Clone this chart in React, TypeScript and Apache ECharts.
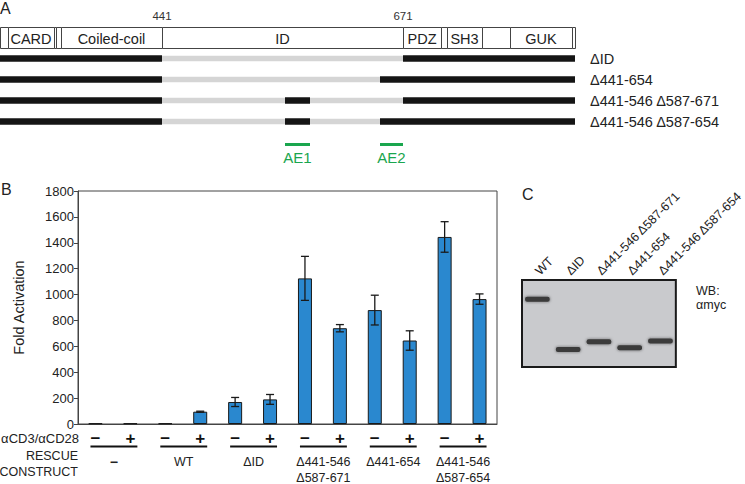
import React, { useEffect, useRef } from "react";
import * as echarts from "echarts";

const FONT = "'Liberation Sans', Arial, Helvetica, sans-serif";
const INK = "#222";

// ---------- Panel B: reporter assay ----------
const barIds = ["b1", "b2", "b3", "b4", "b5", "b6", "b7", "b8", "b9", "b10", "b11", "b12"];
const stimulation = ["−", "+", "−", "+", "−", "+", "−", "+", "−", "+", "−", "+"];
const rescueGroups = ["−", "WT", "ΔID", "Δ441-546\nΔ587-671", "Δ441-654", "Δ441-546\nΔ587-654"];
const foldActivation = [5, 5, 5, 95, 170, 190, 1125, 740, 880, 645, 1445, 965];
const foldError = [0, 0, 0, 4, 35, 38, 170, 28, 115, 75, 118, 40];

// ---------- Panel A: construct schematic ----------
// residue breakpoints and their place along the (not-to-scale) schematic
const breakResidues = [1, 441, 546, 587, 654, 671, 1154];
const breakPositions = [0, 162, 285, 310, 380, 403, 575];
const domainNames = ["", "CARD", "", "", "Coiled-coil", "ID", "PDZ", "", "SH3", "", "GUK", ""];
const domainEdges = [0, 8, 54, 56, 61, 162, 403, 441, 447, 482, 510, 572, 575];
const labeledResidues = [441, 671];
const constructs = ["ΔID", "Δ441-654", "Δ441-546 Δ587-671", "Δ441-546 Δ587-654"];
const constructDeletions = [
  [[441, 671]],
  [[441, 654]],
  [[441, 546], [587, 671]],
  [[441, 546], [587, 654]],
];
const aeNames = ["AE1", "AE2"];
const aeRanges = [[546, 587], [654, 671]];

// ---------- Panel C: western blot ----------
const lanes = ["WT", "ΔID", "Δ441-546 Δ587-671", "Δ441-654", "Δ441-546 Δ587-654"];
const bandMigration = [22, 80, 71, 78, 70];

function resPos(res: number): number {
  for (let k = 0; k < breakResidues.length - 1; k++) {
    const a = breakResidues[k], b = breakResidues[k + 1];
    if (res >= a && res <= b) {
      const t = (res - a) / (b - a);
      return breakPositions[k] + t * (breakPositions[k + 1] - breakPositions[k]);
    }
  }
  return breakPositions[breakPositions.length - 1];
}

const schematicRows = ["domains", ...constructs, "AE"];

function buildSegments() {
  const out: number[][] = [];
  const first = breakResidues[0];
  const last = breakResidues[breakResidues.length - 1];
  constructDeletions.forEach((dels, r) => {
    let cursor = first;
    dels.forEach(([a, b]) => {
      out.push([resPos(cursor), resPos(a), r + 1, 1]);
      out.push([resPos(a), resPos(b), r + 1, 0]);
      cursor = b;
    });
    out.push([resPos(cursor), resPos(last), r + 1, 1]);
  });
  return out;
}

export default function App() {
  const ref = useRef<HTMLDivElement>(null);
  useEffect(() => {
    if (!ref.current) return;
    const chart = echarts.init(ref.current, undefined, { renderer: "svg" });

    const option: any = {
      animation: false,
      textStyle: { fontFamily: FONT, color: INK },
      grid: [
        { left: 78, top: 191, width: 419, height: 233, show: true, borderColor: "#444", borderWidth: 1 },
        { left: 0, top: 27, width: 575, height: 126 },
        { left: 522, top: 280, width: 167, height: 87, show: true, backgroundColor: "#c9cacd", borderColor: "#1a1a1a", borderWidth: 2 },
      ],
      xAxis: [
        {
          gridIndex: 0,
          type: "category",
          data: barIds,
          axisLine: { show: true, lineStyle: { color: "#444", width: 1 } },
          axisTick: { show: false },
          axisLabel: {
            interval: 0,
            margin: 6,
            fontSize: 17,
            fontWeight: "bold",
            lineHeight: 16,
            color: "#111",
            formatter: (_v: string, i: number) => stimulation[i],
          },
        },
        { gridIndex: 1, type: "value", min: 0, max: 575, show: false },
        {
          gridIndex: 2,
          type: "category",
          data: lanes,
          position: "top",
          axisLine: { show: false },
          axisTick: { show: false },
          axisLabel: { interval: 0, rotate: 45, margin: 7, fontSize: 12.5, color: INK },
        },
      ],
      yAxis: [
        {
          gridIndex: 0,
          type: "value",
          min: 0,
          max: 1800,
          interval: 200,
          name: "Fold Activation",
          nameLocation: "middle",
          nameGap: 52,
          nameTextStyle: { fontSize: 14.5, color: INK },
          splitLine: { show: false },
          axisLine: { show: true, lineStyle: { color: "#444", width: 1 } },
          axisTick: { show: true, length: 4, lineStyle: { color: "#444" } },
          axisLabel: { fontSize: 13, color: INK, margin: 4, formatter: (v: number) => String(v) },
        },
        {
          gridIndex: 1,
          type: "category",
          data: schematicRows,
          inverse: true,
          position: "right",
          axisLine: { show: false },
          axisTick: { show: false },
          axisLabel: {
            margin: 15,
            fontSize: 14.5,
            color: INK,
            formatter: (v: string) => (v === "domains" || v === "AE" ? "" : v),
          },
        },
        { gridIndex: 2, type: "value", min: 0, max: 100, inverse: true, show: false },
      ],
      series: [
        {
          type: "bar",
          xAxisIndex: 0,
          yAxisIndex: 0,
          z: 2,
          data: foldActivation,
          barWidth: 14,
          itemStyle: { color: "#2a88cf", borderColor: "#1a1a1a", borderWidth: 1 },
        },
        {
          type: "custom",
          xAxisIndex: 0,
          yAxisIndex: 0,
          z: 5,
          clip: false,
          data: foldActivation.map((v, i) => [i, v, foldError[i]]).filter((d) => d[2] > 0),
          renderItem: (_p: any, api: any) => {
            const x = api.value(0), v = api.value(1), e = api.value(2);
            const hi = api.coord([x, v + e]);
            const lo = api.coord([x, v - e]);
            const half = 4;
            const st = { stroke: "#1a1a1a", lineWidth: 1.3 };
            return {
              type: "group",
              children: [
                { type: "line", shape: { x1: hi[0], y1: hi[1], x2: lo[0], y2: lo[1] }, style: st },
                { type: "line", shape: { x1: hi[0] - half, y1: hi[1], x2: hi[0] + half, y2: hi[1] }, style: st },
                { type: "line", shape: { x1: lo[0] - half, y1: lo[1], x2: lo[0] + half, y2: lo[1] }, style: st },
              ],
            };
          },
        },
        {
          type: "custom",
          xAxisIndex: 0,
          yAxisIndex: 0,
          clip: false,
          data: rescueGroups.map((_g, i) => [2 * i, 0, 2 * i + 1, i]),
          renderItem: (_p: any, api: any) => {
            const a = api.coord([api.value(0), 0]);
            const b = api.coord([api.value(2), 0]);
            const label = rescueGroups[api.value(3)];
            const y = a[1] + 22.5;
            return {
              type: "group",
              children: [
                { type: "line", shape: { x1: a[0] - 5, y1: y, x2: b[0] + 7, y2: y }, style: { stroke: "#111", lineWidth: 2 } },
                {
                  type: "text",
                  style: {
                    text: label,
                    x: (a[0] + b[0]) / 2 + 1,
                    y: a[1] + 30,
                    align: "center",
                    textAlign: "center",
                    verticalAlign: "top",
                    textVerticalAlign: "top",
                    fontSize: label === "−" ? 14 : 12.5,
                    fontWeight: label === "−" ? "bold" : "normal",
                    lineHeight: 16,
                    fontFamily: FONT,
                    fill: INK,
                  },
                },
              ],
            };
          },
        },
        // Panel A: domain box
        {
          type: "custom",
          xAxisIndex: 1,
          yAxisIndex: 1,
          clip: false,
          data: domainNames.map((_n, i) => [domainEdges[i], domainEdges[i + 1], 0, i]),
          renderItem: (_p: any, api: any) => {
            const p1 = api.coord([api.value(0), api.value(2)]);
            const p2 = api.coord([api.value(1), api.value(2)]);
            const h = api.size([0, 1])[1];
            const name = domainNames[api.value(3)];
            return {
              type: "group",
              children: [
                {
                  type: "rect",
                  shape: { x: p1[0] + 0.5, y: p1[1] - h / 2 + 0.5, width: p2[0] - p1[0], height: h },
                  style: { fill: "#fff", stroke: "#444", lineWidth: 1 },
                },
                {
                  type: "text",
                  style: {
                    text: name,
                    x: (p1[0] + p2[0]) / 2,
                    y: p1[1] + 1,
                    align: "center",
                    textAlign: "center",
                    verticalAlign: "middle",
                    textVerticalAlign: "middle",
                    fontSize: 14.5,
                    fontFamily: FONT,
                    fill: INK,
                  },
                },
              ],
            };
          },
        },
        // Panel A: residue numbers above box
        {
          type: "custom",
          xAxisIndex: 1,
          yAxisIndex: 1,
          clip: false,
          data: labeledResidues.map((r) => [resPos(r), 0, r]),
          renderItem: (_p: any, api: any) => {
            const c = api.coord([api.value(0), api.value(1)]);
            const h = api.size([0, 1])[1];
            return {
              type: "text",
              style: {
                text: String(api.value(2)),
                x: c[0],
                y: c[1] - h / 2 - 11,
                align: "center",
                textAlign: "center",
                verticalAlign: "middle",
                textVerticalAlign: "middle",
                fontSize: 11.5,
                fontFamily: FONT,
                fill: "#333",
              },
            };
          },
        },
        // Panel A: construct bars
        {
          type: "custom",
          xAxisIndex: 1,
          yAxisIndex: 1,
          clip: false,
          data: buildSegments(),
          renderItem: (_p: any, api: any) => {
            const p1 = api.coord([api.value(0), api.value(2)]);
            const p2 = api.coord([api.value(1), api.value(2)]);
            const kept = api.value(3) === 1;
            const h = kept ? 6.5 : 5.5;
            return {
              type: "rect",
              shape: { x: p1[0], y: p1[1] - h / 2, width: p2[0] - p1[0], height: h },
              style: { fill: kept ? "#151515" : "#d5d5d5" },
            };
          },
        },
        // Panel A: activation elements
        {
          type: "custom",
          xAxisIndex: 1,
          yAxisIndex: 1,
          clip: false,
          data: aeRanges.map(([a, b], i) => [resPos(a), resPos(b), 5, i]),
          renderItem: (_p: any, api: any) => {
            const p1 = api.coord([api.value(0), api.value(2)]);
            const p2 = api.coord([api.value(1), api.value(2)]);
            return {
              type: "group",
              children: [
                {
                  type: "rect",
                  shape: { x: p1[0], y: p1[1] + 0.5, width: p2[0] - p1[0], height: 3 },
                  style: { fill: "#1aa64e" },
                },
                {
                  type: "text",
                  style: {
                    text: aeNames[api.value(3)],
                    x: (p1[0] + p2[0]) / 2,
                    y: p1[1] + 15,
                    align: "center",
                    textAlign: "center",
                    verticalAlign: "middle",
                    textVerticalAlign: "middle",
                    fontSize: 15,
                    fontFamily: FONT,
                    fill: "#1aa64e",
                  },
                },
              ],
            };
          },
        },
        // Panel C: blot bands
        {
          type: "custom",
          xAxisIndex: 2,
          yAxisIndex: 2,
          data: bandMigration.map((m, i) => [i, m]),
          renderItem: (_p: any, api: any) => {
            const c = api.coord([api.value(0), api.value(1)]);
            const w = api.size([1, 0])[0] * 0.8;
            return {
              type: "rect",
              shape: { x: c[0] - w / 2, y: c[1] - 2.5, width: w, height: 5, r: 2 },
              style: { fill: "#3a3a3a", shadowBlur: 3, shadowColor: "rgba(30,30,30,0.6)" },
            };
          },
        },
      ],
      graphic: [
        { type: "text", x: 0, y: 8, style: { text: "A", font: `16px ${FONT}`, fill: INK, textAlign: "left", align: "left", textVerticalAlign: "middle", verticalAlign: "middle" } },
        { type: "text", x: 1, y: 189, style: { text: "B", font: `16px ${FONT}`, fill: INK, textAlign: "left", align: "left", textVerticalAlign: "middle", verticalAlign: "middle" } },
        { type: "text", x: 522, y: 194, style: { text: "C", font: `16px ${FONT}`, fill: INK, textAlign: "left", align: "left", textVerticalAlign: "middle", verticalAlign: "middle" } },
        { type: "text", x: 79, y: 438, style: { text: "αCD3/αCD28", font: `13px ${FONT}`, fill: INK, textAlign: "right", align: "right", textVerticalAlign: "middle", verticalAlign: "middle" } },
        { type: "text", x: 78, y: 456, style: { text: "RESCUE", font: `12.5px ${FONT}`, fill: INK, textAlign: "right", align: "right", textVerticalAlign: "middle", verticalAlign: "middle" } },
        { type: "text", x: 78, y: 472, style: { text: "CONSTRUCT", font: `12.5px ${FONT}`, fill: INK, textAlign: "right", align: "right", textVerticalAlign: "middle", verticalAlign: "middle" } },
        { type: "text", x: 696, y: 291, style: { text: "WB:", font: `12.5px ${FONT}`, fill: INK, textAlign: "left", align: "left", textVerticalAlign: "middle", verticalAlign: "middle" } },
        { type: "text", x: 696, y: 305, style: { text: "αmyc", font: `12.5px ${FONT}`, fill: INK, textAlign: "left", align: "left", textVerticalAlign: "middle", verticalAlign: "middle" } },
      ],
    };

    chart.setOption(option);
    return () => chart.dispose();
  }, []);

  return (
    <div
      ref={ref}
      style={{ position: "absolute", left: 0, top: 0, width: 745, height: 484, background: "#fff" }}
    />
  );
}
